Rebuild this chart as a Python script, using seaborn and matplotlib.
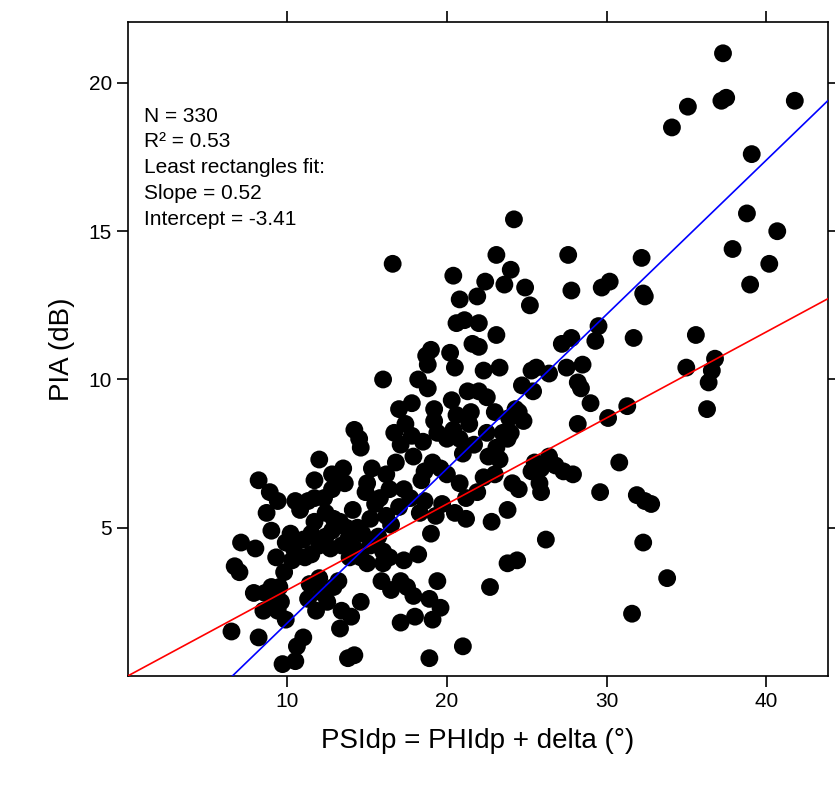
import matplotlib
matplotlib.use("Agg")
import matplotlib.pyplot as plt
import seaborn as sns
import numpy as np
import pandas as pd

pts = [(37.3,21.0),(37.2,19.4),(37.5,19.5),(35.1,19.2),(34.1,18.5),(41.8,19.4),(39.1,17.6),(38.8,15.6),(40.7,15.0),(37.9,14.4),(40.2,13.9),(39.0,13.2),(32.2,14.1),(30.2,13.3),(29.7,13.1),(32.4,12.8),(32.3,12.9),(35.6,11.5),(31.7,11.4),(36.8,10.7),(36.6,10.3),(36.4,9.9),(35.0,10.4),(36.3,9.0),(31.3,9.1),(30.1,8.7),(29.5,11.8),(29.3,11.3),(28.5,10.5),(27.8,11.4),(27.2,11.2),(28.2,9.9),(28.4,9.7),(29.0,9.2),(28.2,8.5),(26.4,10.2),(27.5,10.4),(27.6,14.2),(27.8,13.0),(25.2,12.5),(24.9,13.1),(24.2,15.4),(23.1,14.2),(24.0,13.7),(23.6,13.2),(22.4,13.3),(20.4,13.5),(21.9,12.8),(20.8,12.7),(21.1,12.0),(20.6,11.9),(22.0,11.9),(23.1,11.5),(25.3,10.3),(25.6,10.4),(24.7,9.8),(25.4,9.6),(24.5,8.9),(24.3,9.0),(24.8,8.6),(23.9,8.7),(23.5,8.2),(23.8,8.0),(23.1,7.7),(22.5,8.2),(22.6,7.4),(21.5,8.9),(21.4,8.5),(20.6,8.8),(20.4,8.3),(20.0,8.0),(21.0,7.5),(22.3,6.7),(21.9,6.2),(21.2,6.0),(21.2,5.3),(20.8,6.5),(20.0,6.8),(19.6,7.0),(19.1,7.2),(19.2,8.6),(19.4,8.2),(20.3,9.3),(21.3,9.6),(22.3,10.3),(22.5,9.4),(23.3,10.4),(22.0,9.6),(20.5,10.4),(20.2,10.9),(19.0,11.0),(18.7,10.8),(18.2,10.0),(18.8,10.5),(18.8,9.7),(19.2,9.0),(17.8,9.2),(17.4,8.5),(16.0,10.0),(17.0,9.0),(17.1,7.8),(16.7,8.2),(16.8,7.2),(16.2,6.8),(16.4,6.3),(15.8,6.0),(15.3,7.0),(15.0,6.5),(14.9,6.2),(14.2,8.3),(14.5,8.0),(14.6,7.7),(13.6,6.5),(13.5,7.0),(12.8,6.8),(12.8,6.3),(12.0,7.3),(11.7,6.6),(11.3,5.9),(11.7,6.0),(12.3,6.0),(12.4,5.5),(12.9,5.3),(13.3,5.2),(13.7,5.0),(14.1,5.6),(15.5,5.8),(16.2,5.4),(16.5,5.1),(17.0,5.7),(17.7,6.0),(17.3,6.3),(18.4,6.6),(18.6,6.9),(18.6,5.9),(18.3,5.5),(19.3,5.4),(19.7,5.8),(20.5,5.5),(23.0,6.8),(23.3,7.3),(24.1,6.5),(24.5,6.3),(23.8,5.6),(25.3,6.9),(25.5,7.2),(26.4,7.4),(25.8,6.5),(25.9,6.2),(25.9,7.0),(26.8,7.1),(27.3,6.9),(27.9,6.8),(29.6,6.2),(30.8,7.2),(31.9,6.1),(32.4,5.9),(32.3,4.5),(32.8,5.8),(33.8,3.3),(31.6,2.1),(26.2,4.6),(24.4,3.9),(23.8,3.8),(22.7,3.0),(22.8,5.2),(21.0,1.0),(19.6,2.3),(19.1,1.9),(18.9,2.6),(18.9,0.6),(18.2,4.1),(19.0,4.8),(17.5,3.0),(17.9,2.7),(17.3,3.9),(17.1,3.2),(16.4,4.0),(16.5,2.9),(15.9,3.2),(16.0,3.8),(15.2,4.4),(15.0,3.8),(14.6,4.0),(14.2,4.3),(13.8,4.6),(14.6,2.5),(14.0,2.0),(14.2,0.7),(13.8,0.6),(13.3,1.6),(13.4,2.2),(13.2,3.2),(12.9,3.0),(12.5,2.5),(12.2,2.8),(12.0,3.3),(11.8,2.2),(11.4,3.1),(11.3,2.6),(11.0,1.3),(10.6,1.0),(10.5,0.5),(9.7,0.4),(9.9,1.9),(9.6,2.5),(9.4,2.2),(9.1,2.6),(9.0,3.0),(8.6,2.8),(8.5,2.2),(8.2,1.3),(6.5,1.5),(7.9,2.8),(9.5,3.0),(9.8,3.5),(10.3,3.9),(10.4,4.3),(9.9,4.5),(10.2,4.8),(11.0,4.6),(11.5,4.8),(11.5,4.1),(11.1,4.0),(12.0,4.4),(12.4,4.7),(12.7,4.3),(13.4,4.4),(12.8,4.9),(9.3,4.0),(9.0,4.9),(8.7,5.5),(8.9,6.2),(8.2,6.6),(8.0,4.3),(7.1,4.5),(7.0,3.5),(6.7,3.7),(9.4,5.9),(10.5,5.9),(10.8,5.6),(11.7,5.2),(16.6,13.9),(17.8,8.1),(21.6,11.2),(22.0,11.1),(24.0,8.2),(23.0,8.9),(21.7,7.8),(20.8,8.0),(18.5,7.9),(17.9,7.4),(15.2,5.3),(14.4,5.0),(13.9,4.0),(15.7,4.7),(16.0,4.2),(14.7,4.8),(18.0,2.0),(17.1,1.8),(19.4,3.2)]
psi = [p[0] for p in pts]
pia = [p[1] for p in pts]
slope_ls, intercept_ls = 0.52, -3.41
slope_red = 0.29

df = pd.DataFrame({"psi": psi, "pia": pia})

sns.set_theme(style="white")
plt.rcParams['font.family'] = ['Liberation Sans', 'DejaVu Sans']
plt.rcParams['text.color'] = 'black'
plt.rcParams['axes.labelcolor'] = 'black'
fig = plt.figure(figsize=(8.35, 7.92), dpi=100)
ax = fig.add_axes([0.153, 0.1465, 0.839, 0.8255])
sns.scatterplot(data=df, x="psi", y="pia", ax=ax, color="black", s=165, edgecolor="none", legend=False, zorder=2)
xs = np.array([0, 43.9])
ax.plot(xs, slope_red * xs, color="red", lw=1.2, zorder=3)
ax.plot(xs, slope_ls * xs + intercept_ls, color="blue", lw=1.2, zorder=3)
ax.set_xlim(0, 43.9)
ax.set_ylim(0, 22.05)
ax.set_xticks([10, 20, 30, 40])
ax.set_yticks([5, 10, 15, 20])
for s in ax.spines.values():
    s.set_color("black"); s.set_linewidth(1.2)
ax.tick_params(direction="out", length=8, width=1.2, color="black", labelsize=15,
               top=True, right=True, bottom=True, left=True, labelcolor="black")
ax.set_xlabel("PSIdp = PHIdp + delta (°)", fontsize=20, labelpad=12, color="black")
ax.set_ylabel("PIA (dB)", fontsize=20, labelpad=10, color="black")
ax.text(1.0, 19.2, "N = 330\nR² = 0.53\nLeast rectangles fit:\nSlope = 0.52\nIntercept = -3.41",
        fontsize=15, va="top", ha="left", linespacing=1.45, color="black")
fig.savefig("out.png", dpi=100)
